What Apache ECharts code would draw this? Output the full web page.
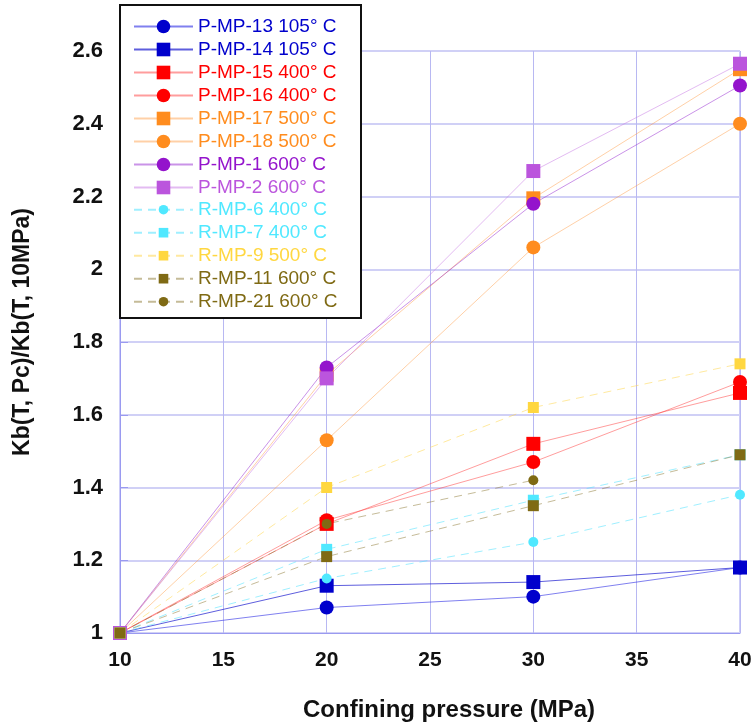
<!DOCTYPE html>
<html>
<head>
<meta charset="utf-8">
<script src="https://cdn.jsdelivr.net/npm/echarts@6/dist/echarts.min.js"></script>
<style>
html,body{margin:0;padding:0;background:#fff;}
#chart{width:755px;height:724px;}
</style>
</head>
<body>
<div id="chart"></div>
<script>
// Confining pressure (MPa)
const pressures = [10, 20, 30, 40];
const pressureTicks = [10, 15, 20, 25, 30, 35, 40];
const ratioTicks = [1, 1.2, 1.4, 1.6, 1.8, 2, 2.2, 2.4, 2.6];

// Kb(T, Pc)/Kb(T, 10MPa)
const pmp13 = [1, 1.07, 1.10, 1.18];
const pmp14 = [1, 1.13, 1.14, 1.18];
const pmp15 = [1, 1.30, 1.52, 1.66];
const pmp16 = [1, 1.31, 1.47, 1.69];
const pmp17 = [1, 1.71, 2.195, 2.55];
const pmp18 = [1, 1.53, 2.06, 2.40];
const pmp1  = [1, 1.73, 2.18, 2.505];
const pmp2  = [1, 1.70, 2.27, 2.565];
const rmp6  = [1, 1.15, 1.25, 1.38];
const rmp7  = [1, 1.23, 1.365, 1.49];
const rmp9  = [1, 1.40, 1.62, 1.74];
const rmp11 = [1, 1.21, 1.35, 1.49];
const rmp21 = [1, 1.30, 1.42];

const seriesNames = [
  'P-MP-13 105° C', 'P-MP-14 105° C', 'P-MP-15 400° C', 'P-MP-16 400° C',
  'P-MP-17 500° C', 'P-MP-18 500° C', 'P-MP-1 600° C', 'P-MP-2 600° C',
  'R-MP-6 400° C', 'R-MP-7 400° C', 'R-MP-9 500° C', 'R-MP-11 600° C', 'R-MP-21 600° C'
];
const seriesValues = [pmp13, pmp14, pmp15, pmp16, pmp17, pmp18, pmp1, pmp2, rmp6, rmp7, rmp9, rmp11, rmp21];

// styles (kept apart from data)
const styles = [
  {c:'#0000cc', l:'rgba(60,60,230,0.65)', s:'circle', z:14, d:false},
  {c:'#0000cc', l:'rgba(40,40,210,0.75)', s:'rect',   z:14, d:false},
  {c:'#ff0000', l:'rgba(255,60,60,0.5)',  s:'rect',   z:14, d:false},
  {c:'#ff0000', l:'rgba(255,60,60,0.5)',  s:'circle', z:14, d:false},
  {c:'#ff8c1e', l:'rgba(255,150,60,0.45)',s:'rect',   z:14, d:false},
  {c:'#ff8c1e', l:'rgba(255,150,60,0.45)',s:'circle', z:14, d:false},
  {c:'#9414cc', l:'rgba(150,40,210,0.5)', s:'circle', z:14, d:false},
  {c:'#bb55dd', l:'rgba(200,120,230,0.5)',s:'rect',   z:14, d:false},
  {c:'#50e8ff', l:'rgba(80,225,255,0.55)',s:'circle', z:10, d:true},
  {c:'#50e8ff', l:'rgba(80,225,255,0.55)',s:'rect',   z:11, d:true},
  {c:'#ffd740', l:'rgba(255,215,80,0.55)',s:'rect',   z:11, d:true},
  {c:'#7f6a14', l:'rgba(140,120,50,0.5)', s:'rect',   z:11, d:true},
  {c:'#7f6a14', l:'rgba(140,120,50,0.5)', s:'circle', z:10, d:true}
];

const font = 'Liberation Sans, Arial, sans-serif';

const series = seriesNames.map((name, i) => ({
  name: name,
  type: 'line',
  data: seriesValues[i].map((v, j) => [pressures[j], v]),
  symbol: styles[i].s,
  symbolSize: styles[i].z,
  showSymbol: true,
  animation: false,
  itemStyle: {color: styles[i].c, opacity: 1},
  lineStyle: {color: styles[i].l, width: 1, type: styles[i].d ? [8, 6] : 'solid'},
  emphasis: {disabled: true}
}));

const legendItem = (name, i) => ({name: name, textStyle: {color: styles[i].c}});

const chart = echarts.init(document.getElementById('chart'), null, {renderer: 'canvas'});
chart.setOption({
  animation: false,
  backgroundColor: '#fff',
  grid: {left: 120, right: 15, top: 51, bottom: 91, show: true, borderColor: '#9a9af0', borderWidth: 1, backgroundColor: 'transparent'},
  xAxis: {
    type: 'value', min: pressureTicks[0], max: pressureTicks[pressureTicks.length - 1], interval: 5,
    axisLine: {show: true, lineStyle: {color: '#9a9af0', width: 1}},
    axisTick: {show: false},
    axisLabel: {margin: 17, fontSize: 21, fontWeight: 'bold', color: '#111', fontFamily: font},
    splitLine: {show: true, lineStyle: {color: '#b8b8f2', width: 1}}
  },
  yAxis: {
    type: 'value', min: ratioTicks[0], max: ratioTicks[ratioTicks.length - 1], interval: 0.2,
    axisLine: {show: true, lineStyle: {color: '#9a9af0', width: 1}},
    axisTick: {show: true, inside: true, length: 8, lineStyle: {color: '#9a9af0'}},
    axisLabel: {margin: 17, fontSize: 22, fontWeight: 'bold', color: '#111', fontFamily: font},
    splitLine: {show: true, lineStyle: {color: '#d0d0f6', width: 2}}
  },
  legend: [
    {
      data: seriesNames.slice(0, 8).map((n, i) => legendItem(n, i)),
      orient: 'vertical', left: 133, top: 17, padding: 0,
      itemWidth: 59, itemHeight: 17, itemGap: 4, z: 20,
      textStyle: {fontSize: 19, fontFamily: font},
      selectedMode: false
    },
    {
      data: seriesNames.slice(8).map((n, i) => legendItem(n, i + 8)),
      orient: 'vertical', left: 133, top: 17 + 8 * 22.9, padding: 0,
      itemWidth: 59, itemHeight: 12, itemGap: 4, z: 20,
      textStyle: {fontSize: 19, fontFamily: font},
      selectedMode: false
    }
  ],
  graphic: {
    elements: [
      {type: 'rect', z: 10, shape: {x: 120, y: 5, width: 241, height: 313},
       style: {fill: '#fff', stroke: '#111', lineWidth: 2}},
      {type: 'text', z: 10, x: 23, y: 332, rotation: Math.PI / 2,
       style: {text: 'Kb(T, Pc)/Kb(T, 10MPa)', font: 'bold 23px ' + font, fill: '#111', align: 'center', verticalAlign: 'middle'}},
      {type: 'text', z: 10, x: 449, y: 710,
       style: {text: 'Confining pressure (MPa)', font: 'bold 24px ' + font, fill: '#111', align: 'center', verticalAlign: 'middle'}}
    ]
  },
  series: series
});
</script>
</body>
</html>
